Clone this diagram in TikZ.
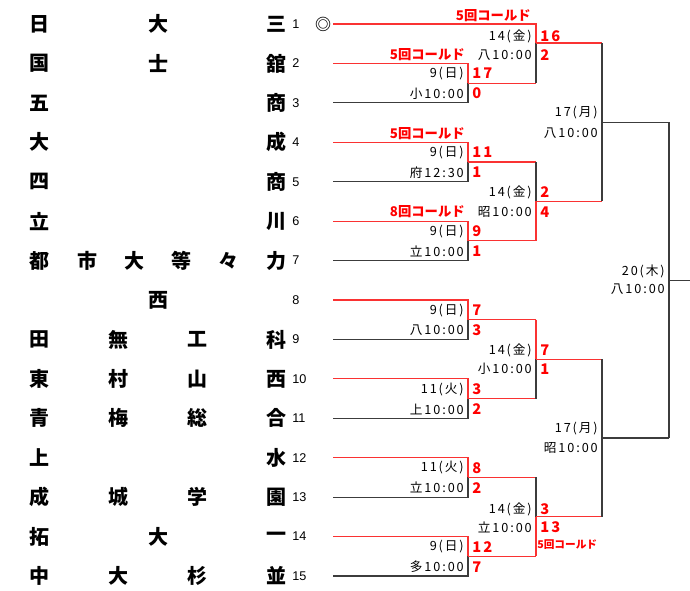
\documentclass[tikz,border=0pt]{standalone}
\usepackage{fontspec}
\setmainfont{Liberation Sans}
\newfontfamily\jp{Noto Sans CJK JP}
\newfontfamily\jpsp{Noto Sans CJK JP}[LetterSpace=15]
\definecolor{wred}{RGB}{255,0,0}
\definecolor{lred}{RGB}{250,50,50}
\definecolor{dline}{RGB}{60,60,60}
\begin{document}
\begin{tikzpicture}[x=0.75pt,y=-0.75pt,
  team/.style={font=\jp\bfseries\fontsize{15}{15}\selectfont,inner sep=0pt},
  num/.style={font=\fontsize{9.5}{10}\selectfont,anchor=west,inner sep=0pt},
  lab/.style={font=\jpsp\fontsize{9.5}{10}\selectfont,anchor=east,inner sep=0pt},
  sc/.style={font=\jpsp\bfseries\fontsize{11}{11}\selectfont,text=wred,anchor=west,inner sep=0pt},
  cold/.style={font=\jp\bfseries\fontsize{10}{10}\selectfont,text=wred,anchor=east,inner sep=0pt},
  wl/.style={draw=lred,line width=0.8pt},
  ll/.style={draw=dline,line width=0.8pt}]
\useasboundingbox (0,0) rectangle (690,590);

% team names (justified across columns)
\foreach \r/\n/\names in {1/3/{日,大,三},2/3/{国,士,舘},3/2/{五,商},4/2/{大,成},5/2/{四,商},6/2/{立,川},7/6/{都,市,大,等,々,力},8/1/{西},9/4/{田,無,工,科},10/4/{東,村,山,西},11/4/{青,梅,総,合},12/2/{上,水},13/4/{成,城,学,園},14/3/{拓,大,一},15/4/{中,大,杉,並}}{
  \pgfmathsetmacro\yy{24+(\r-1)*39.43}
  \foreach \c [count=\k from 0] in \names {
    \pgfmathsetmacro\xx{\n==1 ? 158 : 40+236*\k/max(\n-1,1)}
    \node[team] (nm\r-\k) at (\xx,\yy) {\c};
  }
  \node[num] (no\r) at (292,\yy) {\r};
  \coordinate (t\r) at (333,\yy);
  \coordinate (e\r) at (468,\yy);
}
\node[font=\jp\bfseries\fontsize{12}{12}\selectfont,inner sep=0pt] (seed) at (323,24) {◎};

% first-round match points
\coordinate (m1) at (468,83.1);  \coordinate (m1o) at (536,83.1);
\coordinate (m2) at (468,162.0); \coordinate (m2o) at (536,162.0);
\coordinate (m3) at (468,240.9); \coordinate (m3o) at (536,240.9);
\coordinate (m4) at (468,319.7); \coordinate (m4o) at (536,319.7);
\coordinate (m5) at (468,398.6); \coordinate (m5o) at (536,398.6);
\coordinate (m6) at (468,477.4); \coordinate (m6o) at (536,477.4);
\coordinate (m7) at (468,556.3); \coordinate (m7o) at (536,556.3);
% second round
\coordinate (n1a) at (536,24);
\coordinate (n1) at (536,43);    \coordinate (n1o) at (602,43);
\coordinate (n2) at (536,201.4); \coordinate (n2o) at (602,201.4);
\coordinate (n3) at (536,359.1); \coordinate (n3o) at (602,359.1);
\coordinate (n4) at (536,516.9); \coordinate (n4o) at (602,516.9);
% third round
\coordinate (p1) at (602,122.2); \coordinate (p1o) at (669,122.2);
\coordinate (p2) at (602,438.0); \coordinate (p2o) at (669,438.0);
\coordinate (f) at (669,280.1);  \coordinate (fo) at (690,280.1);

% first round lines
\draw[wl] (t2) -- (e2) -- (m1);   \draw[ll] (t3) -- (e3) -- (m1);
\draw[wl] (t4) -- (e4) -- (m2);   \draw[ll] (t5) -- (e5) -- (m2);
\draw[wl] (t6) -- (e6) -- (m3);   \draw[ll] (t7) -- (e7) -- (m3);
\draw[wl] (t8) -- (e8) -- (m4);   \draw[ll] (t9) -- (e9) -- (m4);
\draw[wl] (t10) -- (e10) -- (m5); \draw[ll] (t11) -- (e11) -- (m5);
\draw[wl] (t12) -- (e12) -- (m6); \draw[ll] (t13) -- (e13) -- (m6);
\draw[wl] (t14) -- (e14) -- (m7); \draw[ll] (t15) -- (e15) -- (m7);
\foreach \i in {1,...,7} { \draw[wl] (m\i) -- (m\i o); }

% second round lines
\draw[wl] (t1) -- (n1a) -- (n1); \draw[ll] (m1o) -- (n1);
\draw[ll] (m2o) -- (n2); \draw[wl] (m3o) -- (n2);
\draw[wl] (m4o) -- (n3); \draw[ll] (m5o) -- (n3);
\draw[ll] (m6o) -- (n4); \draw[wl] (m7o) -- (n4);
\foreach \i in {1,...,4} { \draw[wl] (n\i) -- (n\i o); }

% third round and final
\draw[ll] (n1o) -- (n2o); \draw[ll] (p1) -- (p1o);
\draw[ll] (n3o) -- (n4o); \draw[ll] (p2) -- (p2o);
\draw[ll] (p1o) -- (p2o); \draw[ll] (f) -- (fo);

% first round labels
\node[lab] (d1) at (464,73.6) {9(日)};  \node[lab] (h1) at (464,93.6) {小10:00};
\node[sc] (s1a) at (472,73.6) {17};     \node[sc] (s1b) at (472,93.6) {0};
\node[lab] (d2) at (464,152.5) {9(日)}; \node[lab] (h2) at (464,172.5) {府12:30};
\node[sc] (s2a) at (472,152.5) {11};    \node[sc] (s2b) at (472,172.5) {1};
\node[lab] (d3) at (464,231.4) {9(日)}; \node[lab] (h3) at (464,251.4) {立10:00};
\node[sc] (s3a) at (472,231.4) {9};     \node[sc] (s3b) at (472,251.4) {1};
\node[lab] (d4) at (464,310.2) {9(日)}; \node[lab] (h4) at (464,330.2) {八10:00};
\node[sc] (s4a) at (472,310.2) {7};     \node[sc] (s4b) at (472,330.2) {3};
\node[lab] (d5) at (464,389.1) {11(火)}; \node[lab] (h5) at (464,409.1) {上10:00};
\node[sc] (s5a) at (472,389.1) {3};      \node[sc] (s5b) at (472,409.1) {2};
\node[lab] (d6) at (464,467.9) {11(火)}; \node[lab] (h6) at (464,487.9) {立10:00};
\node[sc] (s6a) at (472,467.9) {8};      \node[sc] (s6b) at (472,487.9) {2};
\node[lab] (d7) at (464,546.8) {9(日)};  \node[lab] (h7) at (464,566.8) {多10:00};
\node[sc] (s7a) at (472,546.8) {12};     \node[sc] (s7b) at (472,566.8) {7};

% second round labels
\node[lab] (dn1) at (532,36) {14(金)};  \node[lab] (hn1) at (532,55) {八10:00};
\node[sc] (sn1a) at (540,36) {16};      \node[sc] (sn1b) at (540,55) {2};
\node[lab] (dn2) at (532,192) {14(金)}; \node[lab] (hn2) at (532,212) {昭10:00};
\node[sc] (sn2a) at (540,192) {2};      \node[sc] (sn2b) at (540,212) {4};
\node[lab] (dn3) at (532,350) {14(金)}; \node[lab] (hn3) at (532,369) {小10:00};
\node[sc] (sn3a) at (540,350) {7};      \node[sc] (sn3b) at (540,369) {1};
\node[lab] (dn4) at (532,509) {14(金)}; \node[lab] (hn4) at (532,527) {立10:00};
\node[sc] (sn4a) at (540,509) {3};      \node[sc] (sn4b) at (540,527) {13};

% third round and final labels
\node[lab] (dp1) at (598,113) {17(月)}; \node[lab] (hp1) at (598,133) {八10:00};
\node[lab] (dp2) at (598,429) {17(月)}; \node[lab] (hp2) at (598,448) {昭10:00};
\node[lab] (df) at (665,271) {20(木)};  \node[lab] (hf) at (665,289) {八10:00};

% called-game notes
\node[cold] (c1) at (531,16) {5回コールド};
\node[cold] (c2) at (465,55) {5回コールド};
\node[cold] (c4) at (465,134) {5回コールド};
\node[cold] (c6) at (465,212) {8回コールド};
\node[cold,anchor=west,font=\jp\bfseries\fontsize{8}{8}\selectfont] (c14) at (537,545) {5回コールド};
\end{tikzpicture}
\end{document}
